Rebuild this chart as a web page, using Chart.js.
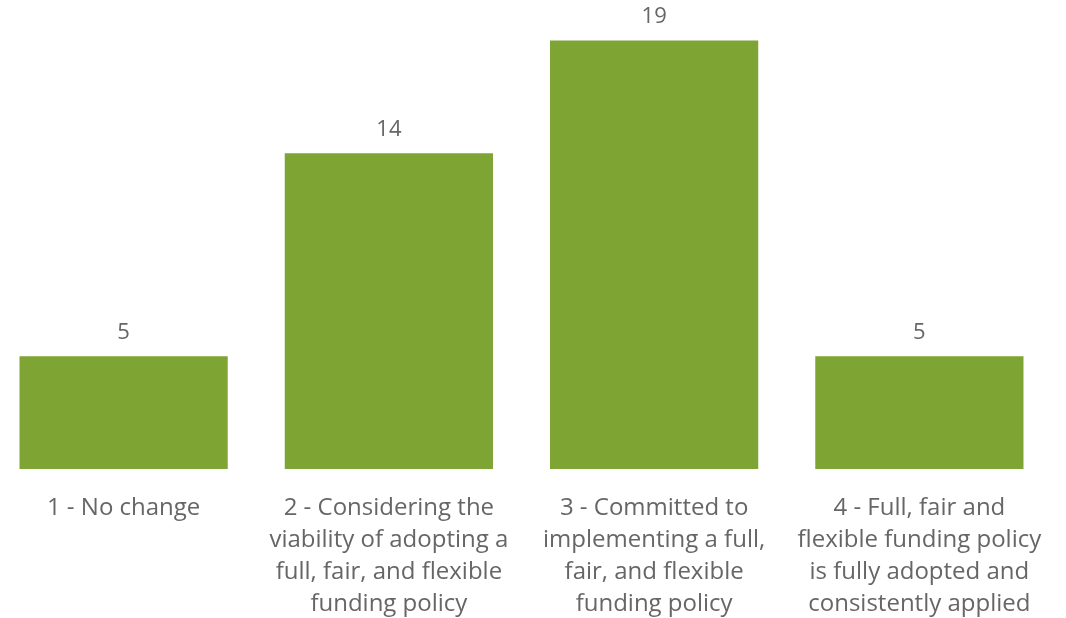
<!DOCTYPE html>
<html>
<head>
<meta charset="utf-8">
<script src="https://cdn.jsdelivr.net/npm/chart.js@4.4.0/dist/chart.umd.min.js"></script>
<style>
  html, body { margin: 0; padding: 0; background: #fff; overflow: hidden; }
  #wrap { position: absolute; left: -9px; top: 0; width: 1061px; height: 618px; }
</style>
</head>
<body>
<div id="wrap"><canvas id="policyChart"></canvas></div>
<script>
const categories = [
  ["1 - No change"],
  ["2 - Considering the", "viability of adopting a", "full, fair, and flexible", "funding policy"],
  ["3 - Committed to", "implementing a full,", "fair, and flexible", "funding policy"],
  ["4 - Full, fair and", "flexible funding policy", "is fully adopted and", "consistently applied"]
];
const responses = [5, 14, 19, 5];

const textColor = "#666666";
const fontFamily = "'Open Sans', 'Noto Sans', sans-serif";

// writes the count above each bar
const valueLabels = {
  id: "valueLabels",
  afterDatasetsDraw(chart) {
    const ctx = chart.ctx;
    const meta = chart.getDatasetMeta(0);
    ctx.save();
    ctx.fillStyle = textColor;
    ctx.font = "22px " + fontFamily;
    ctx.textAlign = "center";
    ctx.textBaseline = "middle";
    meta.data.forEach((bar, i) => {
      ctx.fillText(String(responses[i]), bar.x, bar.y - 24);
    });
    ctx.restore();
  }
};

new Chart(document.getElementById("policyChart").getContext("2d"), {
  type: "bar",
  data: {
    labels: categories,
    datasets: [{
      data: responses,
      backgroundColor: "#7ea433",
      borderWidth: 0,
      barPercentage: 0.785,
      categoryPercentage: 1
    }]
  },
  options: {
    responsive: true,
    maintainAspectRatio: false,
    animation: false,
    layout: { padding: { top: 18, left: 0, right: 0, bottom: 0 } },
    plugins: {
      legend: { display: false },
      tooltip: { enabled: false }
    },
    scales: {
      x: {
        grid: { display: false, drawTicks: false },
        border: { display: false },
        ticks: {
          color: textColor,
          font: { family: fontFamily, size: 24, lineHeight: 1.333 },
          padding: 23,
          maxRotation: 0,
          autoSkip: false
        },
        afterFit(scale) {
          // keep the plot full width; long labels may run past the edges
          scale.height = 149;
          scale.paddingLeft = 0;
          scale.paddingRight = 0;
        }
      },
      y: {
        display: false,
        min: 0,
        max: 20
      }
    }
  },
  plugins: [valueLabels]
});
</script>
</body>
</html>
